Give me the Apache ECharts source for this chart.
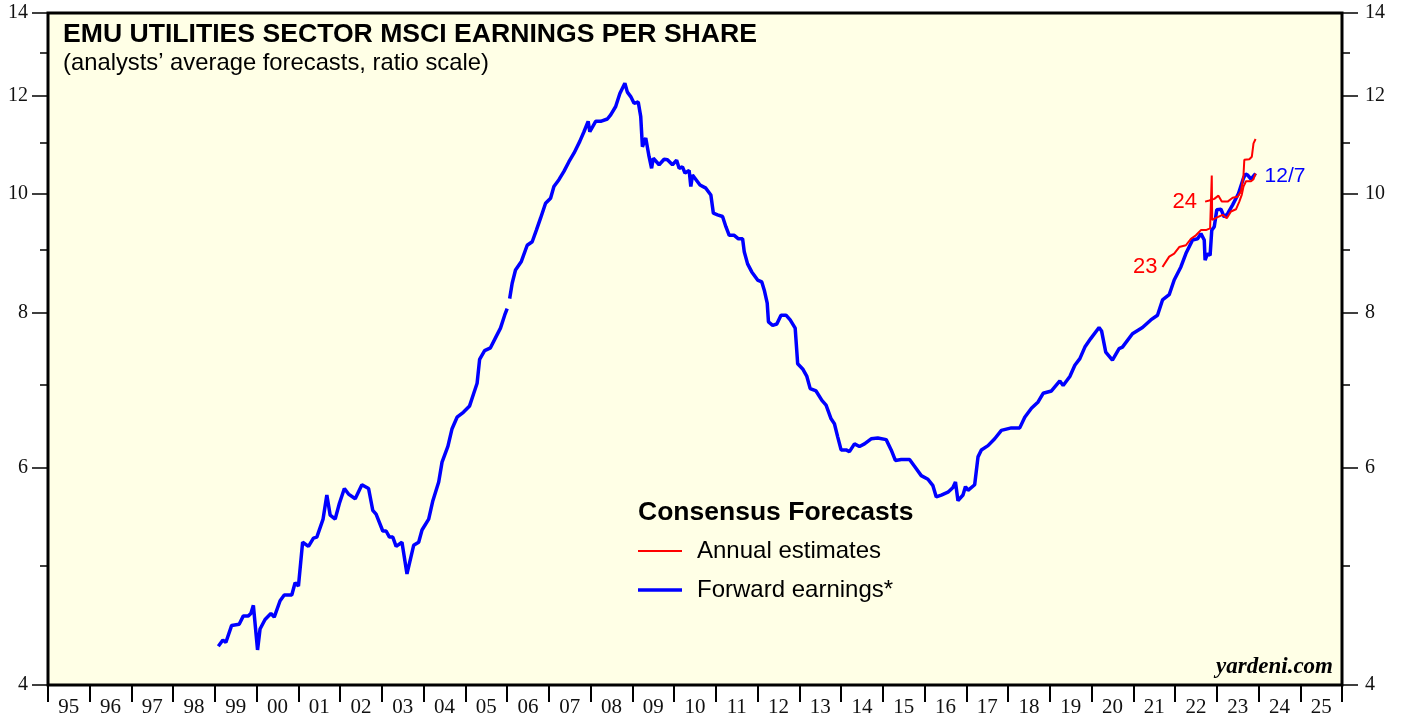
<!DOCTYPE html>
<html>
<head>
<meta charset="utf-8">
<title>EMU Utilities Sector MSCI EPS</title>
<script src="https://cdn.jsdelivr.net/npm/echarts@6/dist/echarts.min.js"></script>
<style>
  html, body { margin: 0; padding: 0; background: #fff; }
  #chart { width: 1403px; height: 717px; }
</style>
</head>
<body>
<div id="chart"></div>
<script>
// forward earnings (decimal years, EPS); null = gap in the series
const fwdYears = [
  1999.08, 1999.19, 1999.26, 1999.40, 1999.58, 1999.68, 1999.80, 1999.86, 1999.92, 2000.02,
  2000.08, 2000.20, 2000.34, 2000.42, 2000.56, 2000.66, 2000.84, 2000.92, 2001.00, 2001.10,
  2001.24, 2001.36, 2001.44, 2001.59, 2001.68, 2001.76, 2001.88, 2001.98, 2002.10, 2002.20,
  2002.36, 2002.52, 2002.68, 2002.78, 2002.86, 2003.02, 2003.10, 2003.18, 2003.26, 2003.34,
  2003.48, 2003.60, 2003.76, 2003.88, 2003.96, 2004.12, 2004.22, 2004.36, 2004.44, 2004.58,
  2004.68, 2004.80, 2004.95, 2005.10, 2005.20, 2005.28, 2005.34, 2005.46, 2005.60, 2005.72,
  2005.84, 2005.94, 2006.00, 2006.03, 2006.06, 2006.12, 2006.20, 2006.34, 2006.48, 2006.60,
  2006.70, 2006.80, 2006.92, 2007.04, 2007.12, 2007.24, 2007.36, 2007.48, 2007.60, 2007.74,
  2007.84, 2007.94, 2007.98, 2008.12, 2008.24, 2008.40, 2008.48, 2008.60, 2008.70, 2008.82,
  2008.88, 2008.96, 2009.04, 2009.14, 2009.20, 2009.24, 2009.32, 2009.40, 2009.46, 2009.50,
  2009.64, 2009.76, 2009.84, 2009.96, 2010.06, 2010.12, 2010.20, 2010.26, 2010.36, 2010.40,
  2010.44, 2010.48, 2010.62, 2010.76, 2010.88, 2010.94, 2011.04, 2011.16, 2011.24, 2011.32,
  2011.44, 2011.54, 2011.64, 2011.68, 2011.76, 2011.86, 2012.00, 2012.10, 2012.16, 2012.23,
  2012.26, 2012.36, 2012.46, 2012.56, 2012.68, 2012.78, 2012.90, 2012.96, 2013.08, 2013.18,
  2013.26, 2013.40, 2013.54, 2013.64, 2013.76, 2013.84, 2013.92, 2014.00, 2014.12, 2014.20,
  2014.32, 2014.44, 2014.56, 2014.72, 2014.88, 2015.08, 2015.20, 2015.30, 2015.44, 2015.64,
  2015.78, 2015.92, 2016.08, 2016.20, 2016.28, 2016.40, 2016.56, 2016.68, 2016.74, 2016.80,
  2016.92, 2016.98, 2017.04, 2017.20, 2017.28, 2017.36, 2017.52, 2017.68, 2017.84, 2018.08,
  2018.28, 2018.40, 2018.56, 2018.72, 2018.84, 2019.04, 2019.24, 2019.32, 2019.48, 2019.60,
  2019.72, 2019.84, 2019.98, 2020.18, 2020.24, 2020.34, 2020.50, 2020.66, 2020.74, 2020.98,
  2021.22, 2021.42, 2021.58, 2021.70, 2021.86, 2021.98, 2022.14, 2022.26, 2022.42, 2022.54,
  2022.62, 2022.70, 2022.72, 2022.78, 2022.84, 2022.88, 2022.94, 2023.00, 2023.10, 2023.18,
  2023.26, 2023.38, 2023.52, 2023.64, 2023.69, 2023.74, 2023.82, 2023.88, 2023.93
];
const fwdEps = [
  4.30, 4.35, 4.33, 4.47, 4.48, 4.55, 4.55, 4.57, 4.64, 4.27,
  4.44, 4.52, 4.57, 4.54, 4.68, 4.73, 4.73, 4.84, 4.81, 5.22,
  5.18, 5.26, 5.27, 5.45, 5.70, 5.49, 5.45, 5.61, 5.77, 5.71,
  5.66, 5.81, 5.77, 5.54, 5.50, 5.33, 5.33, 5.27, 5.27, 5.18,
  5.22, 4.92, 5.19, 5.22, 5.34, 5.45, 5.64, 5.84, 6.06, 6.24,
  6.45, 6.59, 6.65, 6.73, 6.89, 7.02, 7.34, 7.46, 7.50, 7.64,
  7.78, 7.97, 8.07, null, 8.22, 8.46, 8.67, 8.81, 9.08, 9.14,
  9.34, 9.55, 9.82, 9.91, 10.13, 10.26, 10.42, 10.61, 10.78, 11.02,
  11.22, 11.44, 11.22, 11.44, 11.44, 11.49, 11.58, 11.76, 12.05, 12.28,
  12.08, 11.98, 11.83, 11.86, 11.54, 10.91, 11.09, 10.71, 10.48, 10.68,
  10.55, 10.66, 10.65, 10.55, 10.64, 10.48, 10.51, 10.39, 10.44, 10.13,
  10.35, 10.32, 10.16, 10.10, 9.97, 9.64, 9.61, 9.58, 9.40, 9.25,
  9.25, 9.19, 9.19, 8.97, 8.77, 8.64, 8.51, 8.48, 8.35, 8.15,
  7.87, 7.82, 7.84, 7.97, 7.97, 7.90, 7.78, 7.28, 7.21, 7.11,
  6.95, 6.92, 6.80, 6.74, 6.57, 6.51, 6.35, 6.20, 6.20, 6.18,
  6.27, 6.24, 6.27, 6.33, 6.34, 6.32, 6.20, 6.08, 6.09, 6.09,
  6.00, 5.91, 5.87, 5.80, 5.68, 5.70, 5.73, 5.78, 5.84, 5.64,
  5.70, 5.79, 5.75, 5.81, 6.12, 6.20, 6.25, 6.33, 6.43, 6.46,
  6.46, 6.59, 6.70, 6.78, 6.89, 6.92, 7.05, 6.99, 7.11, 7.26,
  7.35, 7.51, 7.63, 7.79, 7.74, 7.44, 7.33, 7.49, 7.51, 7.70,
  7.79, 7.90, 7.97, 8.20, 8.28, 8.51, 8.72, 8.94, 9.17, 9.19,
  9.28, 9.17, 8.83, 8.94, 8.91, 9.34, 9.40, 9.70, 9.71, 9.57,
  9.63, 9.79, 10.00, 10.29, 10.37, 10.35, 10.27, 10.33, 10.38
];

// annual estimates for 2023
const est23Years = [
  2021.70, 2021.86, 2021.98, 2022.10, 2022.26, 2022.38, 2022.50, 2022.62, 2022.74, 2022.84,
  2022.87, 2022.88, 2022.89, 2023.02, 2023.14, 2023.24, 2023.34, 2023.46, 2023.54, 2023.60,
  2023.64, 2023.70, 2023.82, 2023.88, 2023.93
];
const est23Eps = [
  8.72, 8.89, 8.94, 9.05, 9.08, 9.19, 9.25, 9.34, 9.34, 9.37,
  9.34, 10.34, 9.52, 9.57, 9.61, 9.55, 9.67, 9.71, 9.85, 9.98,
  10.13, 10.23, 10.23, 10.27, 10.38
];

// annual estimates for 2024
const est24Years = [
  2022.72, 2022.82, 2022.94, 2023.04, 2023.12, 2023.26, 2023.38, 2023.50, 2023.58, 2023.64,
  2023.66, 2023.78, 2023.84, 2023.88, 2023.93
];
const est24Eps = [
  9.85, 9.87, 9.90, 9.96, 9.85, 9.85, 9.92, 9.94, 10.04, 10.35,
  10.65, 10.66, 10.71, 10.98, 11.07
];

const yearTicks = [];
for (let y = 1995; y <= 2025; y++) yearTicks.push(y + 0.5);
const yearLabels = ['95', '96', '97', '98', '99', '00', '01', '02', '03', '04', '05', '06', '07', '08', '09', '10',
  '11', '12', '13', '14', '15', '16', '17', '18', '19', '20', '21', '22', '23', '24', '25'];

const majorTicks = [4, 6, 8, 10, 12, 14];
const minorTicks = [5, 7, 9, 11, 13];

const SANS = '"Liberation Sans", Arial, sans-serif';
const SERIF = '"Liberation Serif", "Times New Roman", serif';

// ratio scale: plot natural logs on a linear axis
const toPoints = (xs, vs) => xs.map((x, i) => [x, vs[i] == null ? '-' : Math.log(vs[i])]);

const chart = echarts.init(document.getElementById('chart'));

const yAxisBase = {
  type: 'value',
  min: Math.log(4),
  max: Math.log(14),
  splitLine: { show: false },
  axisLine: { show: false },
};

const yMajor = (position, margin) => ({
  ...yAxisBase,
  position,
  axisTick: {
    show: true,
    customValues: majorTicks.map(Math.log),
    length: 16,
    lineStyle: { color: '#000', width: 1.5 },
  },
  axisLabel: {
    customValues: majorTicks.map(Math.log),
    formatter: (v) => String(Math.round(Math.exp(v))),
    margin,
    fontFamily: SERIF,
    fontSize: 20,
    color: '#111',
  },
});

const yMinor = (position) => ({
  ...yAxisBase,
  position,
  axisTick: {
    show: true,
    customValues: minorTicks.map(Math.log),
    length: 8,
    lineStyle: { color: '#000', width: 1.5 },
  },
  axisLabel: { show: false },
});

const option = {
  animation: false,
  backgroundColor: '#fff',
  grid: {
    left: 48,
    right: 61,
    top: 13,
    bottom: 32,
    show: true,
    borderColor: '#000',
    borderWidth: 3,
    backgroundColor: '#FFFFE6',
    outerBoundsMode: 'none',
  },
  xAxis: {
    type: 'value',
    min: 1995,
    max: 2026,
    interval: 1,
    splitLine: { show: false },
    axisLine: { show: false },
    axisTick: { show: true, length: 17, lineStyle: { color: '#000', width: 2 } },
    axisLabel: {
      customValues: yearTicks,
      formatter: (v) => yearLabels[Math.round(v - 1995.5)],
      margin: 12,
      fontFamily: SERIF,
      fontSize: 21,
      color: '#111',
    },
  },
  yAxis: [yMajor('left', 20), yMinor('left'), yMajor('right', 23), yMinor('right')],
  series: [
    {
      name: 'Annual estimates 2023',
      type: 'line',
      data: toPoints(est23Years, est23Eps),
      showSymbol: false,
      lineStyle: { color: '#ff0000', width: 2 },
      z: 3,
      markPoint: {
        symbol: 'circle',
        symbolSize: 0,
        data: [{
          coord: [est23Years[0], Math.log(est23Eps[0])],
          label: { show: true, position: 'left', distance: 5, formatter: '23', color: '#ff0000', fontFamily: SANS, fontSize: 22 },
        }],
      },
    },
    {
      name: 'Annual estimates 2024',
      type: 'line',
      data: toPoints(est24Years, est24Eps),
      showSymbol: false,
      lineStyle: { color: '#ff0000', width: 2 },
      z: 3,
      markPoint: {
        symbol: 'circle',
        symbolSize: 0,
        data: [{
          coord: [est24Years[0], Math.log(est24Eps[0])],
          label: { show: true, position: 'left', distance: 8, formatter: '24', color: '#ff0000', fontFamily: SANS, fontSize: 22 },
        }],
      },
    },
    {
      name: 'Forward earnings',
      type: 'line',
      data: toPoints(fwdYears, fwdEps),
      showSymbol: false,
      connectNulls: false,
      lineStyle: { color: '#0000ff', width: 3.5 },
      z: 2,
      endLabel: {
        show: true,
        formatter: '12/7',
        color: '#0000ff',
        fontFamily: SANS,
        fontSize: 21,
        distance: 9,
        offset: [0, 3],
      },
    },
  ],
  graphic: [
    {
      type: 'text',
      left: 63,
      top: 21,
      style: { text: 'EMU UTILITIES SECTOR MSCI EARNINGS PER SHARE', font: 'bold 26.6px ' + SANS, fill: '#000' },
    },
    {
      type: 'text',
      left: 63,
      top: 51,
      style: { text: '(analysts\u2019 average forecasts, ratio scale)', font: '23.8px ' + SANS, fill: '#000' },
    },
    {
      type: 'text',
      left: 638,
      top: 499,
      style: { text: 'Consensus Forecasts', font: 'bold 26.5px ' + SANS, fill: '#000' },
    },
    {
      type: 'line',
      shape: { x1: 638, y1: 551, x2: 682, y2: 551 },
      style: { stroke: '#ff0000', lineWidth: 2 },
    },
    {
      type: 'text',
      left: 697,
      top: 539,
      style: { text: 'Annual estimates', font: '24px ' + SANS, fill: '#000' },
    },
    {
      type: 'line',
      shape: { x1: 638, y1: 590, x2: 682, y2: 590 },
      style: { stroke: '#0000ff', lineWidth: 3.5 },
    },
    {
      type: 'text',
      left: 697,
      top: 578,
      style: { text: 'Forward earnings*', font: '24px ' + SANS, fill: '#000' },
    },
    {
      type: 'text',
      right: 70,
      top: 656,
      style: { text: 'yardeni.com', font: 'italic bold 23px ' + SERIF, fill: '#000' },
    },
  ],
};

chart.setOption(option);
</script>
</body>
</html>
